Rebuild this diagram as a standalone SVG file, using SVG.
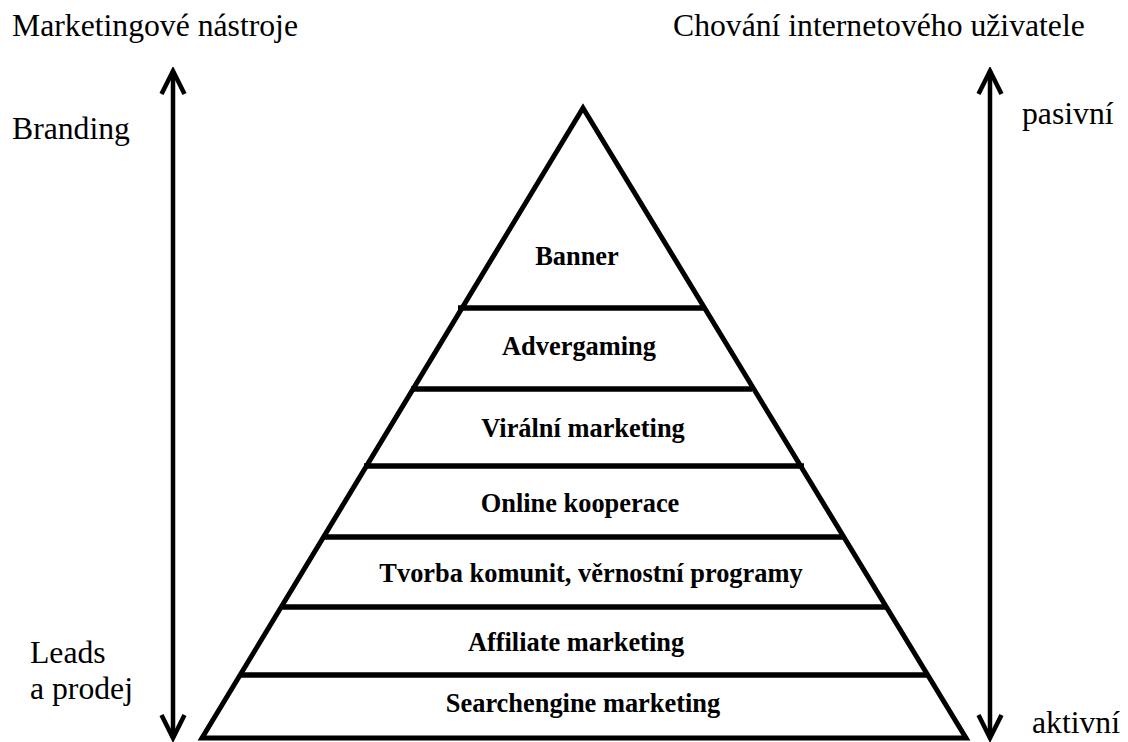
<svg xmlns="http://www.w3.org/2000/svg" width="1128" height="742" viewBox="0 0 1128 742">
<style>
.lbl{font-family:"Liberation Serif","Times New Roman",serif;font-size:31.7px;fill:#000}
.lvl{font-family:"Liberation Serif","Times New Roman",serif;font-size:26.4px;font-weight:bold;fill:#000;text-anchor:middle}
.edge{stroke:#000;stroke-width:5;fill:none}
.bar{stroke:#000;stroke-width:5.5;fill:none}
.arr{stroke:#000;stroke-width:4.5;fill:none}
</style>
<defs>
<marker id="chev" viewBox="-30 -16 34 32" markerUnits="userSpaceOnUse" markerWidth="34" markerHeight="32" refX="0" refY="0" orient="auto-start-reverse">
<path d="M -23 -11.5 L 0 0 L -23 11.5" fill="none" stroke="#000" stroke-width="4.5" stroke-linejoin="miter"/>
</marker>
</defs>
<rect width="1128" height="742" fill="#fff"/>
<g id="connectors">
<line class="arr" x1="173" y1="71" x2="173" y2="738" marker-start="url(#chev)" marker-end="url(#chev)"/>
<line class="arr" x1="990" y1="71" x2="990" y2="738" marker-start="url(#chev)" marker-end="url(#chev)"/>
</g>
<g id="pyramid">
<polygon class="edge" points="583,108 202,738 966,738" stroke-linejoin="miter"/>
<line class="bar" x1="458" y1="308" x2="706" y2="308"/>
<line class="bar" x1="411" y1="389" x2="752" y2="389"/>
<line class="bar" x1="364" y1="466" x2="804" y2="466"/>
<line class="bar" x1="322" y1="537" x2="845" y2="537"/>
<line class="bar" x1="280" y1="607" x2="887" y2="607"/>
<line class="bar" x1="239" y1="675" x2="928" y2="675"/>
</g>
<g id="banner"><text class="lvl" x="577" y="265">Banner</text></g>
<g id="advergaming"><text class="lvl" x="579" y="355">Advergaming</text></g>
<g id="viralni"><text class="lvl" x="583" y="437">Virální marketing</text></g>
<g id="online"><text class="lvl" x="580" y="512">Online kooperace</text></g>
<g id="tvorba"><text class="lvl" x="591" y="582">Tvorba komunit, věrnostní programy</text></g>
<g id="affiliate"><text class="lvl" x="576" y="651">Affiliate marketing</text></g>
<g id="search"><text class="lvl" x="583" y="712">Searchengine marketing</text></g>
<g id="left-labels">
<text class="lbl" x="12" y="36">Marketingové nástroje</text>
<text class="lbl" x="12" y="139">Branding</text>
<text class="lbl" x="30" y="663">Leads</text>
<text class="lbl" x="30" y="699">a prodej</text>
</g>
<g id="right-labels">
<text class="lbl" x="673" y="36">Chování internetového uživatele</text>
<text class="lbl" x="1022" y="124">pasivní</text>
<text class="lbl" x="1032" y="733">aktivní</text>
</g>
</svg>
